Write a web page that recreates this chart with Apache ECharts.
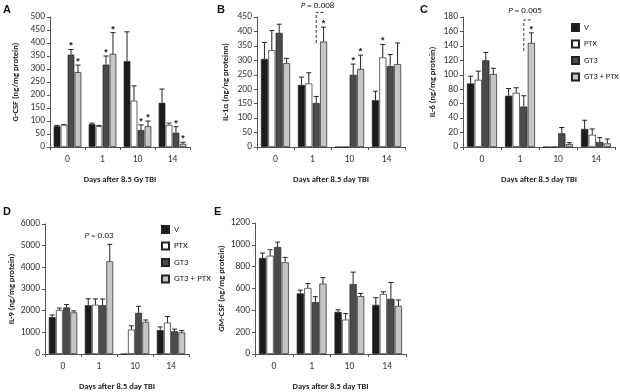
<!DOCTYPE html>
<html><head><meta charset="utf-8">
<script src="https://cdn.jsdelivr.net/npm/echarts@6/dist/echarts.min.js"></script>
<style>html,body{margin:0;padding:0;background:#fff}#c{width:620px;height:392px}</style>
</head><body><div id="c"></div>
<script>
// ---- data ----
const days = ['0', '1', '10', '14'];
const groupNames = ['V', 'PTX', 'GT3', 'GT3 + PTX'];

// Panel A: G-CSF  (rows = V, PTX, GT3, GT3 + PTX ; cols = days)
const gcsfMean = [[80, 88, 330, 170], [85, 80, 178, 85], [355, 317, 65, 55], [288, 358, 80, 12]];
const gcsfErr  = [[3, 4, 113, 53], [1, 3, 57, 7], [20, 33, 20, 23], [27, 82, 20, 6]];
const gcsfStar = [[0, 0, 0, 0], [0, 0, 0, 0], [1, 1, 1, 1], [1, 1, 1, 1]];

// Panel B: IL-1α
const il1Mean = [[305, 215, 0, 162], [335, 220, 0, 310], [395, 152, 250, 280], [290, 365, 270, 287]];
const il1Err  = [[57, 27, 0, 31], [68, 37, 0, 45], [30, 23, 37, 40], [17, 50, 48, 73]];
const il1Star = [[0, 0, 0, 0], [0, 0, 0, 1], [0, 0, 1, 0], [0, 1, 1, 0]];

// Panel C: IL-6
const il6Mean = [[88, 71, 0, 25], [93, 75, 0, 17], [120, 56, 19, 7], [101, 144, 4, 5]];
const il6Err  = [[10, 10, 0, 12], [12, 7, 0, 8], [11, 15, 8, 6], [8, 14, 2, 6]];
const il6Star = [[0, 0, 0, 0], [0, 0, 0, 0], [0, 0, 0, 0], [0, 1, 0, 0]];

// Panel D: IL-9
const il9Mean = [[1700, 2250, 0, 1100], [2030, 2270, 1130, 1450], [2150, 2250, 1900, 1050], [1920, 4280, 1480, 1000]];
const il9Err  = [[100, 300, 0, 150], [90, 270, 170, 280], [130, 290, 300, 100], [70, 780, 90, 80]];

// Panel E: GM-CSF
const gmMean = [[880, 555, 385, 450], [900, 605, 315, 550], [980, 475, 640, 505], [840, 645, 530, 440]];
const gmErr  = [[45, 30, 20, 65], [55, 40, 55, 20], [45, 50, 110, 150], [45, 55, 25, 55]];

// axis ranges / ticks
const yMaxes = [500, 450, 180, 6000, 1200];
const yIntervals = [50, 50, 20, 1000, 200];
const yNames = ['G-CSF (ng/mg protein)', 'IL-1\u03b1 (ng/ng proteinn)', 'IL-6 (ng/mg protein)', 'IL-9 (ng/mg protein)', 'GM-CSF (ng/mg protein)'];
const xNames = ['Days after 8.5 Gy TBI', 'Days after 8.5 day TBI', 'Days after 8.5 day TBI', 'Days after 8.5 day TBI', 'Days after 8.5 day TBI'];
const panelLetters = ['A', 'B', 'C', 'D', 'E'];

// p-value annotations: [panel, day, bracketStart, bracketTop, textY, text]
const pNotes = [
  [1, 1, 360, 466, 490, '0.008'],
  [2, 1, 133, 176, 188, '0.005'],
  [3, 1, null, null, 5450, '0.03']
];

// ---- layout ----
const grids = [
  {left: 50, top: 17, width: 140, height: 130},
  {left: 257, top: 17, width: 148, height: 130},
  {left: 463, top: 17, width: 152, height: 130},
  {left: 45, top: 224, width: 144, height: 130},
  {left: 255, top: 223, width: 151, height: 131}
];
const yNameGaps = [30, 27, 26, 27, 26];
const letterPos = [[3, 4], [217, 4], [420, 4], [3, 206], [214, 206]];
const FONT = 'Carlito, Lato, "Liberation Sans", sans-serif';
const colors = ['#1b1b1b', '#ffffff', '#4b4b4b', '#c6c6c6'];
const BW = 0.19, GAP = 0.05;

const means = [gcsfMean, il1Mean, il6Mean, il9Mean, gmMean];
const errs = [gcsfErr, il1Err, il6Err, il9Err, gmErr];
const stars = [gcsfStar, il1Star, il6Star, null, null];

function barX(api, d, g) {
  const c = api.coord([d, 0]);
  const catW = api.size([1, 0])[0];
  const bw = catW * BW, gap = bw * GAP;
  const total = 4 * bw + 3 * gap;
  return c[0] - total / 2 + bw / 2 + g * (bw + gap);
}

const xAxis = [], yAxis = [], series = [];
grids.forEach((g, i) => {
  xAxis.push({
    type: 'category', gridIndex: i, data: days,
    axisLine: {lineStyle: {color: '#555', width: 1}},
    axisTick: {show: true, length: 3, lineStyle: {color: '#555'}},
    axisLabel: {fontSize: 9.5, color: '#333', margin: 8, fontFamily: FONT},
    name: xNames[i], nameLocation: 'middle', nameGap: 28,
    nameTextStyle: {fontSize: 8.5, fontWeight: 'bold', color: '#222', fontFamily: FONT}
  });
  yAxis.push({
    type: 'value', gridIndex: i, min: 0, max: yMaxes[i], interval: yIntervals[i],
    axisLine: {show: true, lineStyle: {color: '#555', width: 1}},
    axisTick: {show: true, length: 3, lineStyle: {color: '#555'}},
    splitLine: {show: false},
    axisLabel: {fontSize: 9.5, color: '#333', margin: 5, fontFamily: FONT, formatter: v => String(v)},
    name: yNames[i], nameLocation: 'middle', nameGap: yNameGaps[i], nameRotate: 90,
    nameTextStyle: {fontSize: 8.5, fontWeight: 'bold', color: '#222', fontFamily: FONT}
  });
  groupNames.forEach((gn, k) => {
    series.push({
      type: 'bar', name: gn, xAxisIndex: i, yAxisIndex: i,
      data: means[i][k], barWidth: (BW * 100) + '%', barGap: (GAP * 100) + '%',
      itemStyle: {color: colors[k], borderColor: '#222', borderWidth: 0.7},
      emphasis: {disabled: true}, animation: false
    });
  });
  const ed = [];
  for (let k = 0; k < 4; k++) for (let d = 0; d < 4; d++) {
    ed.push([d, k, means[i][k][d], errs[i][k][d], stars[i] ? stars[i][k][d] : 0]);
  }
  series.push({
    type: 'custom', xAxisIndex: i, yAxisIndex: i, data: ed, animation: false, silent: true,
    encode: {x: 0, y: 2},
    renderItem: (params, api) => {
      const d = api.value(0), k = api.value(1), m = api.value(2), e = api.value(3), s = api.value(4);
      const x = barX(api, d, k);
      const yb = api.coord([d, m])[1];
      const yt = api.coord([d, m + e])[1];
      const ch = [];
      if (e > 0) {
        ch.push({type: 'line', shape: {x1: x, y1: yb, x2: x, y2: yt}, style: {stroke: '#222', lineWidth: 1}});
        ch.push({type: 'line', shape: {x1: x - 2.5, y1: yt, x2: x + 2.5, y2: yt}, style: {stroke: '#222', lineWidth: 1}});
      }
      if (s) {
        ch.push({type: 'text', style: {text: '*', x: x, y: yt + 1, align: 'center', verticalAlign: 'bottom', fontSize: 9, fontWeight: 'bold', fill: '#222', fontFamily: '"Liberation Sans", sans-serif'}});
      }
      return {type: 'group', children: ch};
    }
  });
});

// p-value annotations
pNotes.forEach(n => {
  const i = n[0];
  series.push({
    type: 'custom', xAxisIndex: i, yAxisIndex: i, data: [[n[1], n[2], n[3], n[4]]],
    animation: false, silent: true, clip: false, encode: {x: 0, y: 3},
    renderItem: (params, api) => {
      const d = api.value(0);
      const ch = [];
      const xText = api.coord([d, 0])[0];
      if (n[2] != null) {
        const x1 = barX(api, d, 2), x2 = barX(api, d, 3);
        const ys = api.coord([d, n[2]])[1], yt = api.coord([d, n[3]])[1];
        ch.push({type: 'polyline', shape: {points: [[x1, ys], [x1, yt], [x2 + 1, yt]]},
          style: {stroke: '#333', lineWidth: 1, lineDash: [3, 2], fill: null}});
      }
      const yTxt = api.coord([d, n[4]])[1];
      ch.push({type: 'text', style: {
        text: '{i|P} = ' + n[5], x: xText + (n[2] != null ? 5 : 0), y: yTxt, align: 'center', verticalAlign: 'middle',
        fontSize: 9, fill: '#222', fontFamily: FONT,
        rich: {i: {fontStyle: 'italic', fontSize: 9, fill: '#222', fontFamily: FONT}}
      }});
      return {type: 'group', children: ch};
    }
  });
});

const legendBase = {
  orient: 'vertical', itemWidth: 7, itemHeight: 7, itemGap: 7.5, icon: 'rect', padding: 0,
  data: groupNames, selectedMode: false,
  textStyle: {fontSize: 8.5, color: '#222', fontFamily: FONT}
};

const chart = echarts.init(document.getElementById('c'), null, {renderer: 'canvas'});
chart.setOption({
  animation: false,
  textStyle: {fontFamily: FONT},
  grid: grids,
  xAxis, yAxis, series,
  legend: [
    Object.assign({}, legendBase, {left: 571, top: 23}),
    Object.assign({}, legendBase, {left: 161, top: 225, textStyle: {fontSize: 9, color: '#222', fontFamily: FONT}})
  ],
  graphic: panelLetters.map((t, i) => ({
    type: 'text', left: letterPos[i][0], top: letterPos[i][1],
    style: {text: t, fontSize: 11, fontWeight: 'bold', fill: '#111', fontFamily: '"Liberation Sans", sans-serif'}
  }))
});
</script></body></html>
